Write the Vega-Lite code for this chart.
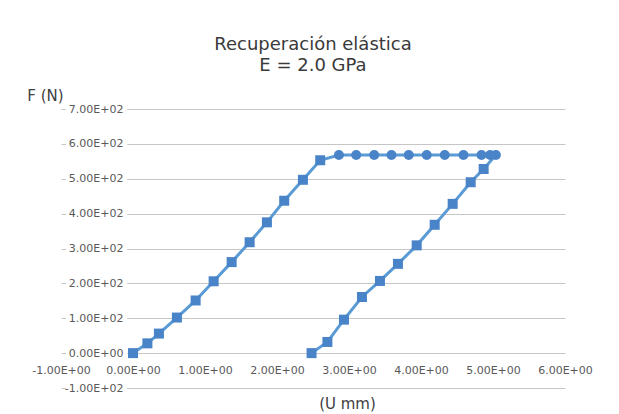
{
  "$schema": "https://vega.github.io/schema/vega-lite/v6.json",
  "width": 504,
  "height": 279,
  "autosize": "none",
  "padding": {"left": 61, "top": 109, "right": 54, "bottom": 26},
  "background": "white",
  "config": {"view": {"stroke": null}, "font": "DejaVu Sans"},
  "title": {
    "text": ["Recuperación elástica", "E = 2.0 GPa"],
    "fontSize": 18,
    "fontWeight": "normal",
    "font": "DejaVu Sans",
    "color": "#3a3a3a",
    "anchor": "middle",
    "offset": 13,
    "lineHeight": 21
  },
  "data": {
    "values": [
      {"orden": 1, "u": 0.0, "f": 0, "fase": "carga"},
      {"orden": 2, "u": 0.2, "f": 28, "fase": "carga"},
      {"orden": 3, "u": 0.36, "f": 56, "fase": "carga"},
      {"orden": 4, "u": 0.61, "f": 102, "fase": "carga"},
      {"orden": 5, "u": 0.87, "f": 151, "fase": "carga"},
      {"orden": 6, "u": 1.12, "f": 206, "fase": "carga"},
      {"orden": 7, "u": 1.37, "f": 261, "fase": "carga"},
      {"orden": 8, "u": 1.62, "f": 318, "fase": "carga"},
      {"orden": 9, "u": 1.86, "f": 375, "fase": "carga"},
      {"orden": 10, "u": 2.1, "f": 437, "fase": "carga"},
      {"orden": 11, "u": 2.36, "f": 497, "fase": "carga"},
      {"orden": 12, "u": 2.6, "f": 553, "fase": "carga"},
      {"orden": 13, "u": 2.86, "f": 568, "fase": "fluencia"},
      {"orden": 14, "u": 3.1, "f": 568, "fase": "fluencia"},
      {"orden": 15, "u": 3.35, "f": 568, "fase": "fluencia"},
      {"orden": 16, "u": 3.59, "f": 568, "fase": "fluencia"},
      {"orden": 17, "u": 3.83, "f": 568, "fase": "fluencia"},
      {"orden": 18, "u": 4.08, "f": 568, "fase": "fluencia"},
      {"orden": 19, "u": 4.33, "f": 568, "fase": "fluencia"},
      {"orden": 20, "u": 4.59, "f": 568, "fase": "fluencia"},
      {"orden": 21, "u": 4.84, "f": 568, "fase": "fluencia"},
      {"orden": 22, "u": 4.96, "f": 568, "fase": "fluencia"},
      {"orden": 23, "u": 5.04, "f": 568, "fase": "fluencia"},
      {"orden": 24, "u": 4.87, "f": 528, "fase": "descarga"},
      {"orden": 25, "u": 4.69, "f": 490, "fase": "descarga"},
      {"orden": 26, "u": 4.44, "f": 428, "fase": "descarga"},
      {"orden": 27, "u": 4.19, "f": 368, "fase": "descarga"},
      {"orden": 28, "u": 3.94, "f": 309, "fase": "descarga"},
      {"orden": 29, "u": 3.68, "f": 256, "fase": "descarga"},
      {"orden": 30, "u": 3.43, "f": 207, "fase": "descarga"},
      {"orden": 31, "u": 3.18, "f": 161, "fase": "descarga"},
      {"orden": 32, "u": 2.93, "f": 96, "fase": "descarga"},
      {"orden": 33, "u": 2.7, "f": 32, "fase": "descarga"},
      {"orden": 34, "u": 2.48, "f": 0, "fase": "descarga"}
    ]
  },
  "layer": [
    {
      "data": {"values": [{}]},
      "mark": {"type": "rect", "fill": "white"},
      "encoding": {
        "x": {"datum": -0.93, "type": "quantitative", "scale": {"domain": [-1, 6]}},
        "x2": {"datum": -0.08},
        "y": {
          "datum": -106,
          "type": "quantitative",
          "scale": {"domain": [-100, 700]},
          "axis": {
            "orient": "left",
            "offset": -72,
            "grid": false,
            "domain": false,
            "ticks": false,
            "labelPadding": 10,
            "labelFontSize": 11,
            "labelColor": "#595959",
            "labelFont": "DejaVu Sans",
            "values": [-100, 0, 100, 200, 300, 400, 500, 600, 700],
            "labelExpr": "datum.value == 0 ? '0.00E+00' : (datum.value < 0 ? '-' : '') + format(abs(datum.value) / 100, '.2f') + 'E+02'",
            "title": null,
            "zindex": 1
          }
        },
        "y2": {"datum": 706}
      }
    },
    {
      "mark": {"type": "line", "color": "#5b9bd5", "strokeWidth": 3},
      "encoding": {
        "x": {
          "field": "u",
          "type": "quantitative",
          "scale": {"domain": [-1, 6]},
          "axis": {
            "orient": "bottom",
            "offset": -35,
            "grid": false,
            "domain": false,
            "ticks": false,
            "values": [-1, 0, 1, 2, 3, 4, 5, 6],
            "labelExpr": "(datum.value < 0 ? '-' : '') + format(abs(datum.value), '.2f') + 'E+00'",
            "labelPadding": 11,
            "labelFontSize": 11,
            "labelColor": "#595959",
            "labelFont": "DejaVu Sans",
            "labelFlush": false,
            "labelOverlap": false,
            "title": "(U mm)",
            "titleX": 286,
            "titleY": 50,
            "titleAlign": "center",
            "titleBaseline": "middle",
            "titleFontSize": 15,
            "titleFontWeight": "normal",
            "titleColor": "#404040",
            "titleFont": "DejaVu Sans",
            "zindex": 1
          }
        },
        "y": {
          "field": "f",
          "type": "quantitative",
          "scale": {"domain": [-100, 700]},
          "axis": {
            "orient": "left",
            "grid": true,
            "gridColor": "#c6c6c6",
            "gridWidth": 1,
            "domain": false,
            "ticks": false,
            "labels": false,
            "values": [-100, 0, 100, 200, 300, 400, 500, 600, 700],
            "title": "F (N)",
            "titleAngle": 0,
            "titleX": -16,
            "titleY": -14,
            "titleAlign": "center",
            "titleBaseline": "middle",
            "titleFontSize": 15,
            "titleFontWeight": "normal",
            "titleColor": "#404040",
            "titleFont": "DejaVu Sans",
            "zindex": 0
          }
        },
        "order": {"field": "orden", "type": "quantitative"}
      }
    },
    {
      "mark": {"type": "point", "filled": true, "opacity": 1, "color": "#4a84c8", "size": 100},
      "encoding": {
        "x": {"field": "u", "type": "quantitative", "scale": {"domain": [-1, 6]}},
        "y": {"field": "f", "type": "quantitative", "scale": {"domain": [-100, 700]}, "axis": null},
        "shape": {
          "field": "fase",
          "type": "nominal",
          "scale": {"domain": ["carga", "fluencia", "descarga"], "range": ["square", "circle", "square"]},
          "legend": null
        }
      }
    }
  ],
  "resolve": {"axis": {"y": "independent"}}
}
